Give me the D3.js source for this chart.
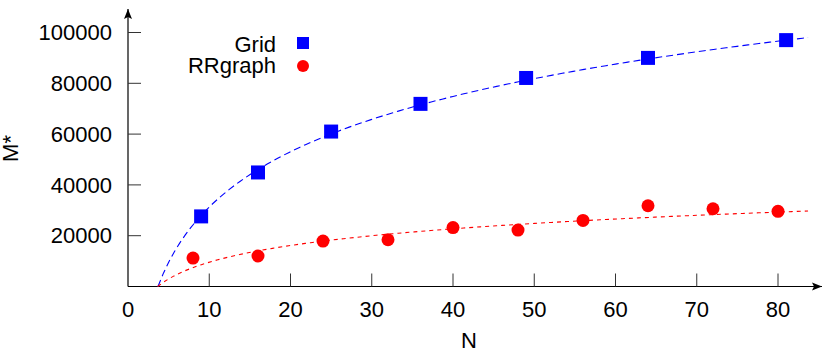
<!DOCTYPE html>
<html>
<head>
<meta charset="utf-8">
<script src="https://cdn.jsdelivr.net/npm/d3@7"></script>
<style>
  body { margin: 0; background: #fff; }
  svg { display: block; font-family: "Liberation Sans", Arial, sans-serif; }
</style>
</head>
<body>
<div id="chart"></div>
<script>
// data
const gridN = [9, 16, 25, 36, 49, 64, 81];
const gridM = [27600, 44900, 61000, 71900, 82100, 90000, 97000];
const rrN = [8, 16, 24, 32, 40, 48, 56, 64, 72, 80];
const rrM = [11200, 12000, 17900, 18400, 23200, 22200, 26000, 31800, 30600, 29600];

// log fits  a*ln(N) + b
const gridFit = {a: 31400, b: -41000};
const rrFit = {a: 9490, b: -12290};

const xTicks = [0, 10, 20, 30, 40, 50, 60, 70, 80];
const yTicks = [20000, 40000, 60000, 80000, 100000];

const width = 823, height = 351;
const x = d3.scaleLinear().domain([0, 80]).range([128, 778]);
const y = d3.scaleLinear().domain([0, 100000]).range([286.5, 32.5]);

const svg = d3.select("#chart").append("svg")
    .attr("width", width)
    .attr("height", height);

svg.append("defs").append("marker")
    .attr("id", "arrow")
    .attr("viewBox", "0 0 10 10")
    .attr("refX", 10).attr("refY", 5)
    .attr("markerWidth", 10).attr("markerHeight", 10)
    .attr("markerUnits", "userSpaceOnUse")
    .attr("orient", "auto")
  .append("path")
    .attr("d", "M0,1L10,5L0,9L2,5Z")
    .attr("fill", "#000");

// axes
const x0 = x(0), y0 = y(0);
svg.append("line")
    .attr("x1", x0).attr("y1", y0).attr("x2", 822).attr("y2", y0)
    .attr("stroke", "#000").attr("stroke-width", 1.2)
    .attr("marker-end", "url(#arrow)");
svg.append("line")
    .attr("x1", x0).attr("y1", y0).attr("x2", x0).attr("y2", 9)
    .attr("stroke", "#000").attr("stroke-width", 1.2)
    .attr("marker-end", "url(#arrow)");

// x ticks
svg.append("g").selectAll("line")
  .data(xTicks.filter(d => d > 0))
  .join("line")
    .attr("x1", d => x(d)).attr("x2", d => x(d))
    .attr("y1", y0).attr("y2", y0 - 13)
    .attr("stroke", "#333");
svg.append("g")
    .attr("font-size", 22).attr("text-anchor", "middle")
  .selectAll("text")
  .data(xTicks)
  .join("text")
    .attr("x", d => x(d)).attr("y", 317)
    .text(d => d);

// y ticks
svg.append("g").selectAll("line")
  .data(yTicks)
  .join("line")
    .attr("x1", x0).attr("x2", x0 + 13)
    .attr("y1", d => y(d)).attr("y2", d => y(d))
    .attr("stroke", "#333");
svg.append("g")
    .attr("font-size", 22).attr("text-anchor", "end")
  .selectAll("text")
  .data(yTicks)
  .join("text")
    .attr("x", 112).attr("y", d => y(d))
    .attr("dy", "0.35em")
    .text(d => d);

svg.append("text")
    .attr("x", 469).attr("y", 348)
    .attr("font-size", 22).attr("text-anchor", "middle")
    .text("N");
svg.append("text")
    .attr("transform", "translate(18,148.5) rotate(-90)")
    .attr("font-size", 22).attr("text-anchor", "middle")
    .text("M*");

// fitted curves, from the zero crossing to the right edge
function fitLine(fit, color, dash) {
  const nStart = Math.exp(-fit.b / fit.a);
  const nEnd = 83.7;
  const pts = d3.range(120).map(i => nStart + (nEnd - nStart) * i / 119);
  const line = d3.line()
      .x(n => x(n))
      .y(n => y(fit.a * Math.log(n) + fit.b));
  svg.append("path")
      .attr("d", line(pts))
      .attr("fill", "none")
      .attr("stroke", color)
      .attr("stroke-width", 1.1)
      .attr("stroke-dasharray", dash);
}
fitLine(gridFit, "#0000ff", "7,4");
fitLine(rrFit, "#ff0000", "4,4");

// points
svg.append("g").selectAll("rect")
  .data(gridN)
  .join("rect")
    .attr("x", (d, i) => x(d) - 7)
    .attr("y", (d, i) => y(gridM[i]) - 7)
    .attr("width", 14).attr("height", 14)
    .attr("fill", "#0000ff");
svg.append("g").selectAll("circle")
  .data(rrN)
  .join("circle")
    .attr("cx", d => x(d))
    .attr("cy", (d, i) => y(rrM[i]))
    .attr("r", 6.5)
    .attr("fill", "#ff0000");

// legend
const legend = svg.append("g").attr("font-size", 22).attr("text-anchor", "end");
legend.append("text").attr("x", 276).attr("y", 44.5).attr("dy", "0.35em").text("Grid");
legend.append("rect").attr("x", 297).attr("y", 37).attr("width", 12).attr("height", 12).attr("fill", "#0000ff");
legend.append("text").attr("x", 276).attr("y", 65.5).attr("dy", "0.35em").text("RRgraph");
legend.append("circle").attr("cx", 303).attr("cy", 66).attr("r", 6).attr("fill", "#ff0000");
</script>
</body>
</html>
